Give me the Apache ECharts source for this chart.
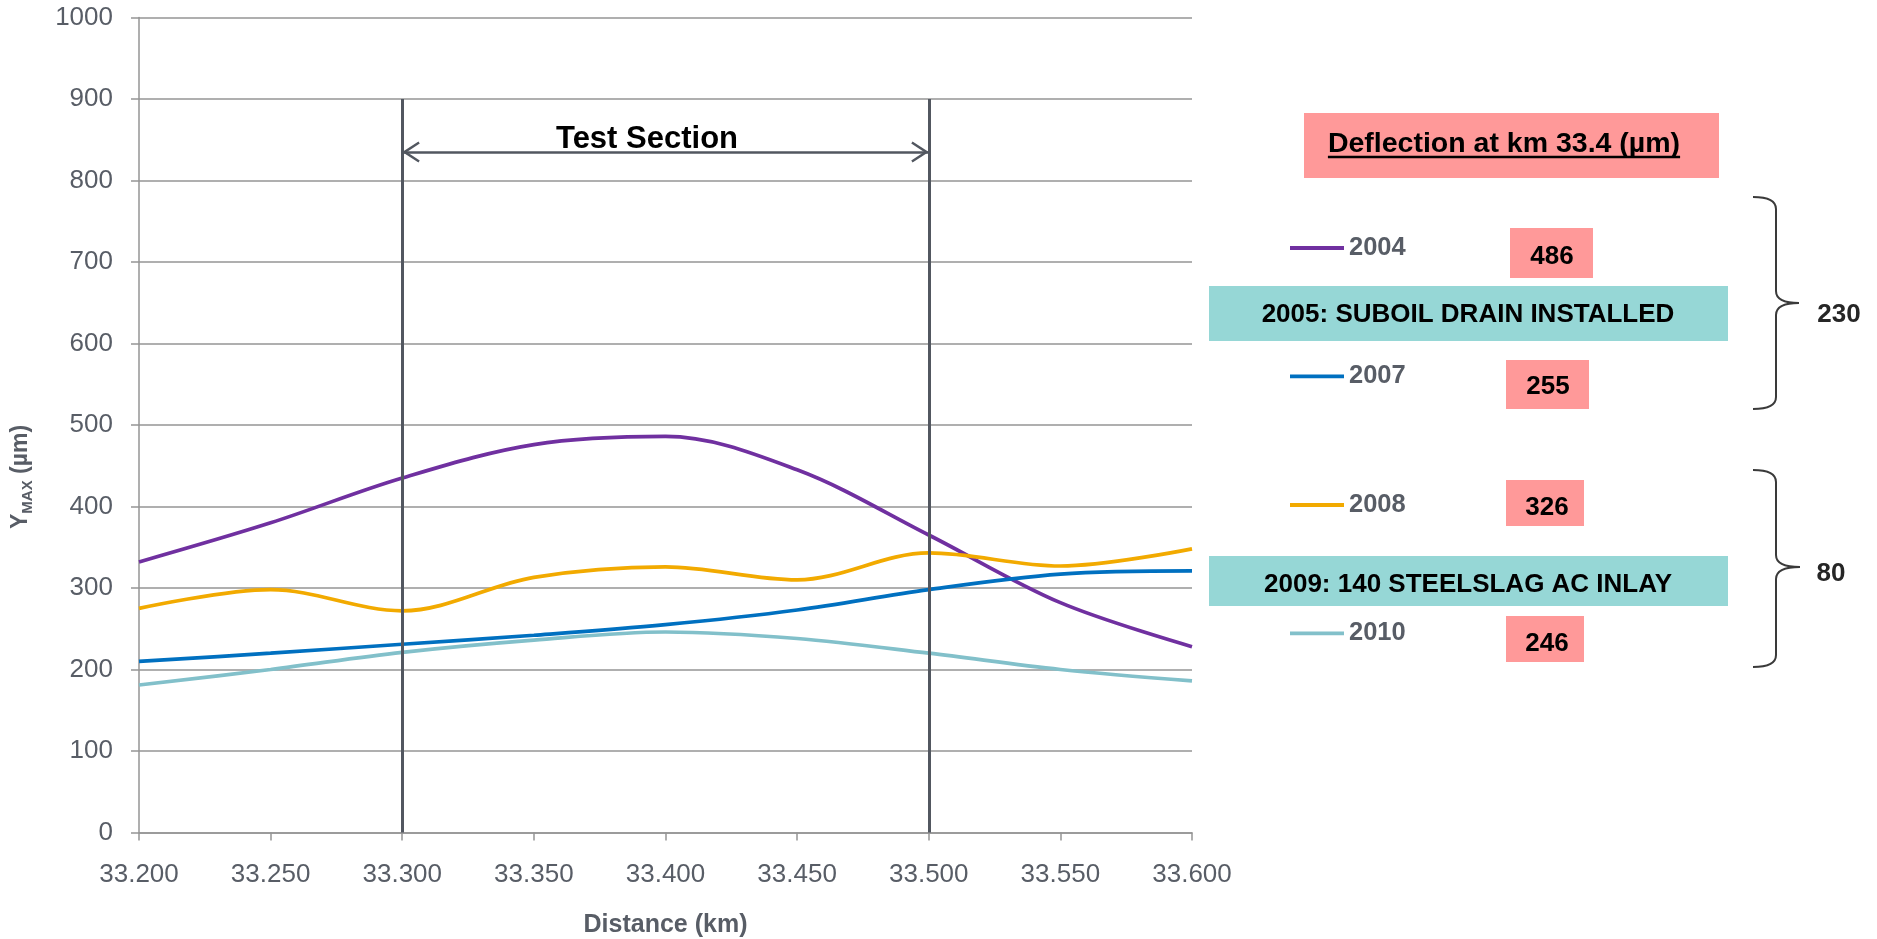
<!DOCTYPE html>
<html>
<head>
<meta charset="utf-8">
<script src="https://cdn.jsdelivr.net/npm/echarts@6/dist/echarts.min.js"></script>
<style>
  html, body { margin: 0; padding: 0; background: #ffffff; }
  #chart { width: 1877px; height: 939px; }
</style>
</head>
<body>
<div id="chart"></div>
<script>
// Survey stations along the road (km) and maximum deflection Ymax (µm) per survey year
const distanceKm = [33.20, 33.25, 33.30, 33.35, 33.40, 33.45, 33.50, 33.55, 33.60];
const ymax2004 = [332, 380, 435, 476, 486, 445, 365, 282, 228];
const ymax2007 = [210, 220, 231, 242, 255, 273, 298, 317, 321];
const ymax2008 = [275, 298, 272, 313, 326, 310, 343, 327, 348];
const ymax2010 = [181, 200, 221, 236, 246, 238, 220, 200, 186];
const surveyYears = ['2004', '2007', '2008', '2010'];

// Test section limits (km), height of the boundary lines and of the span arrow (µm)
const testSectionKm = [33.300, 33.500];
const testSectionTop = 900;
const testSectionArrowLevel = 835;

// Reference station for the deflection table, treatments and deflection drops
const reportKm = 33.4;
const treatments = ['2005: SUBOIL DRAIN INSTALLED', '2009: 140 STEELSLAG AC INLAY'];
const deflectionDrops = [230, 80];

const FONT = "'Liberation Sans', Arial, Helvetica, sans-serif";
const GRID_GRAY = '#959595';
const LABEL_GRAY = '#585d66';
const MARK_GRAY = '#525760';
const PINK = '#ff9999';
const TEAL = '#96d7d6';
const lineColors = ['#7030a0', '#0070c0', '#f2aa00', '#82c0ca'];

const allSeries = [ymax2004, ymax2007, ymax2008, ymax2010];
const reportIdx = distanceKm.indexOf(reportKm);
const reportValues = allSeries.map(s => s[reportIdx]);

const chart = echarts.init(document.getElementById('chart'), null, { renderer: 'canvas' });

// Open chevron for the arrow ends; the tiny dot below keeps the tip on the symbol centre
const chevron = 'path://M10,0 L20,16.2 L18,17.5 L10,4.6 L2,17.5 L0,16.2 Z M10,-17.5 L10.01,-17.5 L10,-17.49 Z';

const lineSeries = surveyYears.map((year, i) => ({
  name: year,
  type: 'line',
  smooth: 0.34,
  symbol: 'none',
  z: 3,
  silent: true,
  lineStyle: { color: lineColors[i], width: 3.7 },
  itemStyle: { color: lineColors[i] },
  data: distanceKm.map((x, k) => [x, allSeries[i][k]])
}));

const markerSeries = {
  name: 'test-section',
  type: 'line',
  data: [],
  silent: true,
  z: 4,
  markLine: {
    silent: true,
    animation: false,
    symbol: 'none',
    label: { show: false },
    emphasis: { disabled: true },
    lineStyle: { color: MARK_GRAY, width: 3, type: 'solid' },
    data: [
      [{ coord: [testSectionKm[0], 0] }, { coord: [testSectionKm[0], testSectionTop] }],
      [{ coord: [testSectionKm[1], 0] }, { coord: [testSectionKm[1], testSectionTop] }],
      [
        { coord: [testSectionKm[0], testSectionArrowLevel], symbol: chevron, symbolSize: [21, 35],
          lineStyle: { width: 2.6 } },
        { coord: [testSectionKm[1], testSectionArrowLevel], symbol: chevron, symbolSize: [21, 35],
          lineStyle: { width: 2.6 } }
      ]
    ]
  }
};

// One legend block per survey year, stacked down the right-hand panel
const legendRows = [247, 375.3, 504, 632.3];
const legends = surveyYears.map((year, i) => ({
  data: [year],
  orient: 'vertical',
  left: 1290,
  top: legendRows[i] - 14,
  padding: 0,
  itemWidth: 54,
  itemHeight: 14,
  icon: 'path://M0,0 L54,0 L54,3.8 L0,3.8 Z',
  selectedMode: false,
  textStyle: { color: LABEL_GRAY, fontFamily: FONT, fontWeight: 'bold', fontSize: 25.5, lineHeight: 30 }
}));

// Pixel width of a string, used to size the title underline
function textWidth(str, font) {
  const ctx = document.createElement('canvas').getContext('2d');
  ctx.font = font;
  return ctx.measureText(str).width;
}

const tableTitle = 'Deflection at km ' + reportKm.toFixed(1) + ' (µm)';
const titleFontSize = 28.5;
const titleW = textWidth(tableTitle, 'bold ' + titleFontSize + 'px ' + FONT);
const titleCx = 1504;

function box(x, y, w, h, color) {
  return { type: 'rect', silent: true, shape: { x: x, y: y, width: w, height: h }, style: { fill: color } };
}
function label(x, y, text, size, color) {
  return {
    type: 'text', silent: true, x: x, y: y + 2,
    style: { text: text, fill: color, font: 'bold ' + size + 'px ' + FONT, align: 'center', verticalAlign: 'middle' }
  };
}
// Right curly brace built from straight runs and quadratic corners
function brace(xl, xs, xt, yTop, yMid, yBot) {
  const r = 12;
  const st = { fill: 'none', stroke: '#3a3a3a', lineWidth: 2 };
  const curve = (x1, y1, cx, cy, x2, y2) => ({
    type: 'bezierCurve', silent: true,
    shape: { x1: x1, y1: y1, cpx1: cx, cpy1: cy, x2: x2, y2: y2 }, style: st
  });
  const seg = (x1, y1, x2, y2) => ({
    type: 'line', silent: true, shape: { x1: x1, y1: y1, x2: x2, y2: y2 }, style: st
  });
  return {
    type: 'group',
    children: [
      curve(xl, yTop, xs, yTop, xs, yTop + r),
      seg(xs, yTop + r, xs, yMid - r),
      curve(xs, yMid - r, xs, yMid, xt, yMid),
      curve(xt, yMid, xs, yMid, xs, yMid + r),
      seg(xs, yMid + r, xs, yBot - r),
      curve(xs, yBot - r, xs, yBot, xl, yBot)
    ]
  };
}

const graphics = [
  // span label between the test-section limits
  label(647, 137, 'Test Section', 31, '#000000'),

  // vertical axis title with subscript
  {
    type: 'text', silent: true, x: 21, y: 477, rotation: Math.PI / 2,
    style: {
      text: '{a|Y}{b|MAX}{a| (µm)}',
      align: 'center', verticalAlign: 'middle',
      rich: {
        a: { fill: LABEL_GRAY, fontFamily: FONT, fontWeight: 'bold', fontSize: 23, lineHeight: 28 },
        b: { fill: LABEL_GRAY, fontFamily: FONT, fontWeight: 'bold', fontSize: 15, lineHeight: 16, verticalAlign: 'bottom' }
      }
    }
  },

  // deflection table title
  box(1304, 113, 415, 65, PINK),
  label(titleCx, 142, tableTitle, titleFontSize, '#000000'),
  { type: 'line', silent: true,
    shape: { x1: titleCx - titleW / 2, y1: 157, x2: titleCx + titleW / 2, y2: 157 },
    style: { stroke: '#000000', lineWidth: 2.5 } },

  // treatment banners
  box(1209, 286, 519, 55, TEAL),
  label(1468, 313, treatments[0], 26, '#000000'),
  box(1209, 556, 519, 50, TEAL),
  label(1468, 583, treatments[1], 26, '#000000'),

  // deflection values at the reference station
  box(1510, 228, 83, 50, PINK),
  label(1552, 255, String(reportValues[0]), 26, '#000000'),
  box(1506, 360, 83, 49, PINK),
  label(1548, 385, String(reportValues[1]), 26, '#000000'),
  box(1506, 480, 78, 46, PINK),
  label(1547, 506, String(reportValues[2]), 26, '#000000'),
  box(1506, 616, 78, 46, PINK),
  label(1547, 642, String(reportValues[3]), 26, '#000000'),

  // braces with the deflection drop after each treatment
  brace(1753, 1776, 1799, 197, 303, 409),
  label(1839, 313, String(deflectionDrops[0]), 26, '#262626'),
  brace(1753, 1776, 1800, 470, 567, 667),
  label(1831, 572, String(deflectionDrops[1]), 26, '#262626')
];

chart.setOption({
  animation: false,
  backgroundColor: '#ffffff',
  textStyle: { fontFamily: FONT },
  grid: {
    left: 139, top: 17.5, width: 1053, height: 815,
    containLabel: false,
    outerBoundsMode: 'none'
  },
  legend: legends,
  xAxis: {
    type: 'value',
    min: 33.2,
    max: 33.6,
    interval: 0.05,
    name: 'Distance (km)',
    nameLocation: 'middle',
    nameGap: 80,
    nameTextStyle: { color: LABEL_GRAY, fontFamily: FONT, fontWeight: 'bold', fontSize: 25 },
    axisLine: { show: true, lineStyle: { color: GRID_GRAY, width: 1.5 } },
    axisTick: { show: true, length: 8, lineStyle: { color: GRID_GRAY, width: 1.5 } },
    splitLine: { show: false },
    axisLabel: {
      color: LABEL_GRAY, fontFamily: FONT, fontSize: 26, margin: 29,
      formatter: v => v.toFixed(3)
    }
  },
  yAxis: {
    type: 'value',
    min: 0,
    max: 1000,
    interval: 100,
    axisLine: { show: true, lineStyle: { color: GRID_GRAY, width: 1.5 } },
    axisTick: { show: true, length: 8, lineStyle: { color: GRID_GRAY, width: 1.5 } },
    splitLine: { show: true, lineStyle: { color: GRID_GRAY, width: 1.5 } },
    axisLabel: { color: LABEL_GRAY, fontFamily: FONT, fontSize: 26, margin: 26, formatter: v => String(v) }
  },
  series: lineSeries.concat([markerSeries]),
  graphic: graphics
});
</script>
</body>
</html>
